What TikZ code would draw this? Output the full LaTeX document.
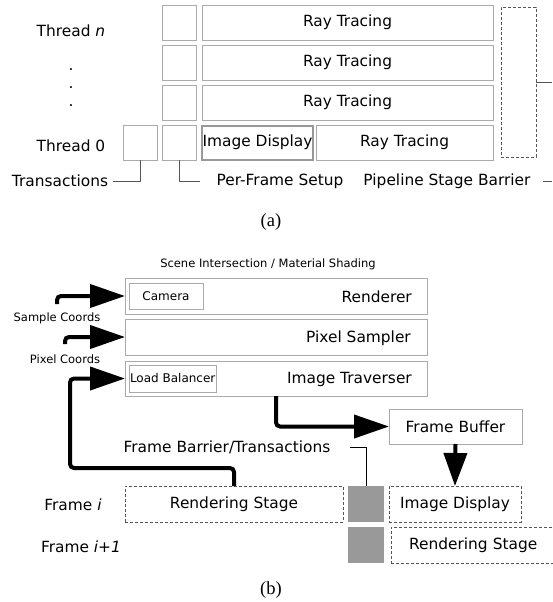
\documentclass[tikz,border=0pt]{standalone}
\usepackage{fontspec}
\setmainfont{DejaVu Sans}
\newfontfamily\capfont{Liberation Serif}
\usetikzlibrary{arrows.meta}
\definecolor{boxgray}{HTML}{AAAAAA}
\definecolor{thickgray}{HTML}{999999}
\definecolor{dashgray}{HTML}{555555}
\definecolor{fillgray}{HTML}{999999}
\begin{document}
\begin{tikzpicture}[x=1pt,y=-1pt,
  box/.style={draw=boxgray,line width=0.9pt,inner sep=0pt,outer sep=0pt,anchor=north west,font=\fontsize{15.4}{17}\selectfont},
  smallbox/.style={box,font=\fontsize{12}{14}\selectfont},
  imgbox/.style={box,draw=thickgray,line width=2pt},
  dashbox/.style={draw=dashgray,dash pattern=on 3pt off 2pt,line width=0.9pt,inner sep=0pt,outer sep=0pt,anchor=north west,font=\fontsize{15.4}{17}\selectfont},
  grayblock/.style={fill=fillgray,draw=none,inner sep=0pt,outer sep=0pt,anchor=north west},
  lbl/.style={font=\fontsize{15.4}{17}\selectfont,inner sep=0pt},
  smalllbl/.style={font=\fontsize{11.5}{13}\selectfont,inner sep=0pt},
  thinline/.style={draw=black,line width=0.8pt},
  thinlead/.style={draw=dashgray,line width=1pt},
  bigarrow/.style={draw=black,line width=4pt,rounded corners=4pt,-{Triangle[length=35pt,width=23pt]}},
  captxt/.style={font=\capfont\fontsize{18.5}{20}\selectfont,inner sep=0pt}]
\useasboundingbox (0,0) rectangle (552,602);

% ---------------- (a) ----------------
\node[box,minimum width=34pt,minimum height=35pt] (s1) at (162,5) {};
\node[box,minimum width=291pt,minimum height=35pt] (r1) at (202,5) {Ray Tracing};
\node[box,minimum width=34pt,minimum height=35pt] (s2) at (162,45) {};
\node[box,minimum width=291pt,minimum height=35pt] (r2) at (202,45) {Ray Tracing};
\node[box,minimum width=34pt,minimum height=35pt] (s3) at (162,85) {};
\node[box,minimum width=291pt,minimum height=35pt] (r3) at (202,85) {Ray Tracing};
\node[box,minimum width=34pt,minimum height=35pt] (tx) at (123,125) {};
\node[box,minimum width=34pt,minimum height=35pt] (s4) at (162,125) {};
\node[imgbox,minimum width=111pt,minimum height=34pt] (id0) at (202,125.5) {Image Display};
\node[box,minimum width=177pt,minimum height=35pt] (r4) at (316,125) {Ray Tracing};
\node[dashbox,minimum width=35pt,minimum height=150pt] (bar) at (501,7) {};

\node[lbl] (tn) at (71,31) {Thread \textit{n}};
\node[lbl] (d1) at (71,70) {.};
\node[lbl] (d2) at (71,88) {.};
\node[lbl] (d3) at (71,106) {.};
\node[lbl] (t0) at (71,146) {Thread 0};
\node[lbl] (ltx) at (60,181) {Transactions};
\node[lbl] (lsf) at (280,181) {Per-Frame Setup};
\node[lbl] (lpb) at (447,181) {Pipeline Stage Barrier};

\coordinate (txe) at (113,181);
\coordinate (sfe) at (200,181);
\coordinate (bare) at (552,82);
\coordinate (pbs) at (543,181);
\coordinate (pbe) at (552,181);
\draw[thinlead] (txe) -| (tx.south);
\draw[thinlead] (s4.south) |- (sfe);
\draw[thinlead] (bar.east) -- (bare);
\draw[thinlead] (pbs) -- (pbe);

\node[captxt] (capa) at (271,222) {(a)};

% ---------------- (b) ----------------
\node[smalllbl] (scene) at (268,264) {Scene Intersection / Material Shading};
\node[box,minimum width=302pt,minimum height=36pt] (ren) at (125,278) {};
\node[box,minimum width=302pt,minimum height=36pt] (ps) at (125,319) {};
\node[box,minimum width=302pt,minimum height=35pt] (it) at (125,361) {};
\node[smallbox,minimum width=74pt,minimum height=26pt] (cam) at (129,283) {Camera};
\node[smallbox,minimum width=87pt,minimum height=27pt,inner sep=1pt] (lb) at (129,365) {Load Balancer};
\node[lbl,anchor=east] (lren) at (412,297) {Renderer};
\node[lbl,anchor=east] (lps) at (411,338) {Pixel Sampler};
\node[lbl,anchor=east] (lit) at (412,379) {Image Traverser};
\node[smalllbl] (lsc) at (57,318) {Sample Coords};
\node[smalllbl] (lpc) at (65,359) {Pixel Coords};

\node[box,minimum width=133pt,minimum height=35pt] (fb) at (389,409) {Frame Buffer};
\node[lbl] (lfbt) at (227,447) {Frame Barrier/Transactions};

\node[lbl] (lfi) at (73,505) {Frame \textit{i}};
\node[lbl] (lfi1) at (81,547) {Frame \textit{i+1}};
\node[dashbox,minimum width=218pt,minimum height=36pt] (rs1) at (125,486) {Rendering Stage};
\node[grayblock,minimum width=36pt,minimum height=36pt] (g1) at (348,486) {};
\node[dashbox,minimum width=132pt,minimum height=36pt] (idb) at (389,486) {Image Display};
\node[grayblock,minimum width=36pt,minimum height=36pt] (g2) at (348,527) {};
\node[dashbox,minimum width=180pt,minimum height=36pt,text width=164pt,align=left] (rs2) at (391,527) {\hspace{10pt}Rendering Stage};

% arrows
\coordinate (sc0) at (57,304);
\coordinate (pc0) at (65,344);
\coordinate (fbk) at (70,468);
\coordinate (itx) at (276,396);
\coordinate (fbl) at (350,447);
\draw[bigarrow] (sc0) |- (ren.west);
\draw[bigarrow] (pc0) |- (ps.west);
\draw[bigarrow] (rs1.north) |- (fbk) |- (it.west);
\draw[bigarrow] (itx) |- (fb.west);
\draw[draw=black,line width=4pt,-{Triangle[length=33pt,width=23pt]}] (fb.south) -- (idb.north);
\draw[thinline] (fbl) -| (g1.north);

\node[captxt] (capb) at (271,590) {(b)};
\end{tikzpicture}
\end{document}
